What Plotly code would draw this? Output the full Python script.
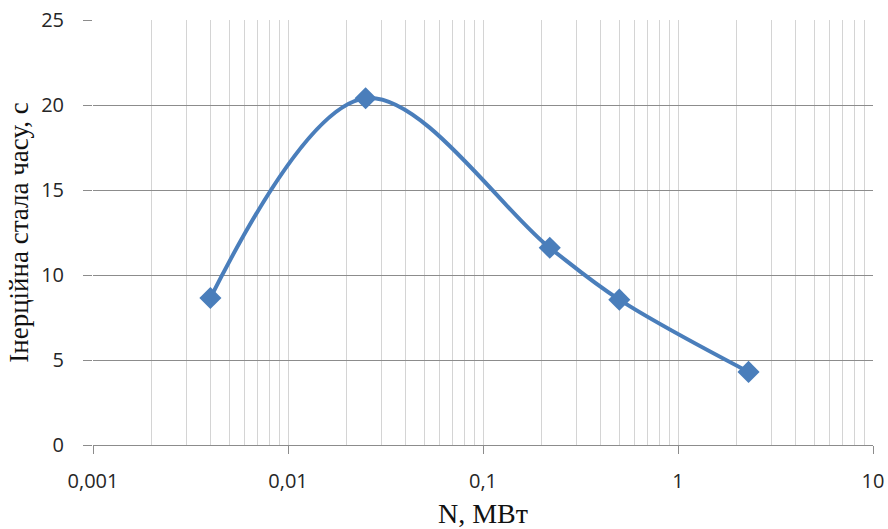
import plotly.graph_objects as go

power_mw = [0.004, 0.025, 0.22, 0.5, 2.3]
inertia_s = [8.65, 20.4, 11.6, 8.55, 4.3]

x_tickvals = [0.001, 0.01, 0.1, 1, 10]
x_ticktext = ["0,001", "0,01", "0,1", "1", "10"]
y_tickvals = [0, 5, 10, 15, 20, 25]

blue = "#4a7ebb"
major = "#8c8c8c"
minor = "#d4d4d4"

fig = go.Figure()
fig.add_trace(go.Scatter(
    x=power_mw, y=inertia_s, mode="lines+markers",
    line=dict(color=blue, width=4, shape="spline", smoothing=1.0),
    marker=dict(symbol="diamond", size=17, color=blue, line=dict(width=0)),
    showlegend=False,
))

fig.update_layout(
    width=888, height=529,
    margin=dict(l=93, r=15, t=20, b=84),
    paper_bgcolor="white", plot_bgcolor="white",
    font=dict(family="Open Sans", color="#222222"),
)
fig.update_xaxes(
    type="log", range=[-3, 1], automargin=False,
    tickvals=x_tickvals, ticktext=x_ticktext,
    tickfont=dict(size=20, family="Open Sans", color="#262626"),
    ticks="outside", ticklen=8, tickcolor=major, ticklabelstandoff=10,
    showgrid=True, gridcolor=minor, gridwidth=1,
    minor=dict(dtick="D1", showgrid=True, gridcolor=minor, gridwidth=1, ticks=""),
    showline=True, linecolor=major, linewidth=1, mirror=False,
    zeroline=False,
    title=dict(text="N, МВт", font=dict(family="Liberation Serif", size=28, color="#111111"), standoff=16),
)
fig.update_yaxes(
    range=[0, 25], tickvals=y_tickvals, automargin=False,
    tickfont=dict(size=20, family="Open Sans", color="#262626"),
    ticks="outside", ticklen=9, tickcolor=major, ticklabelstandoff=15,
    showgrid=True, gridcolor=major, gridwidth=1,
    showline=False, zeroline=False,
    title=dict(text="Інерційна стала часу, с", font=dict(family="Liberation Serif", size=27, color="#111111"), standoff=4),
)
fig.write_html("out.html")
